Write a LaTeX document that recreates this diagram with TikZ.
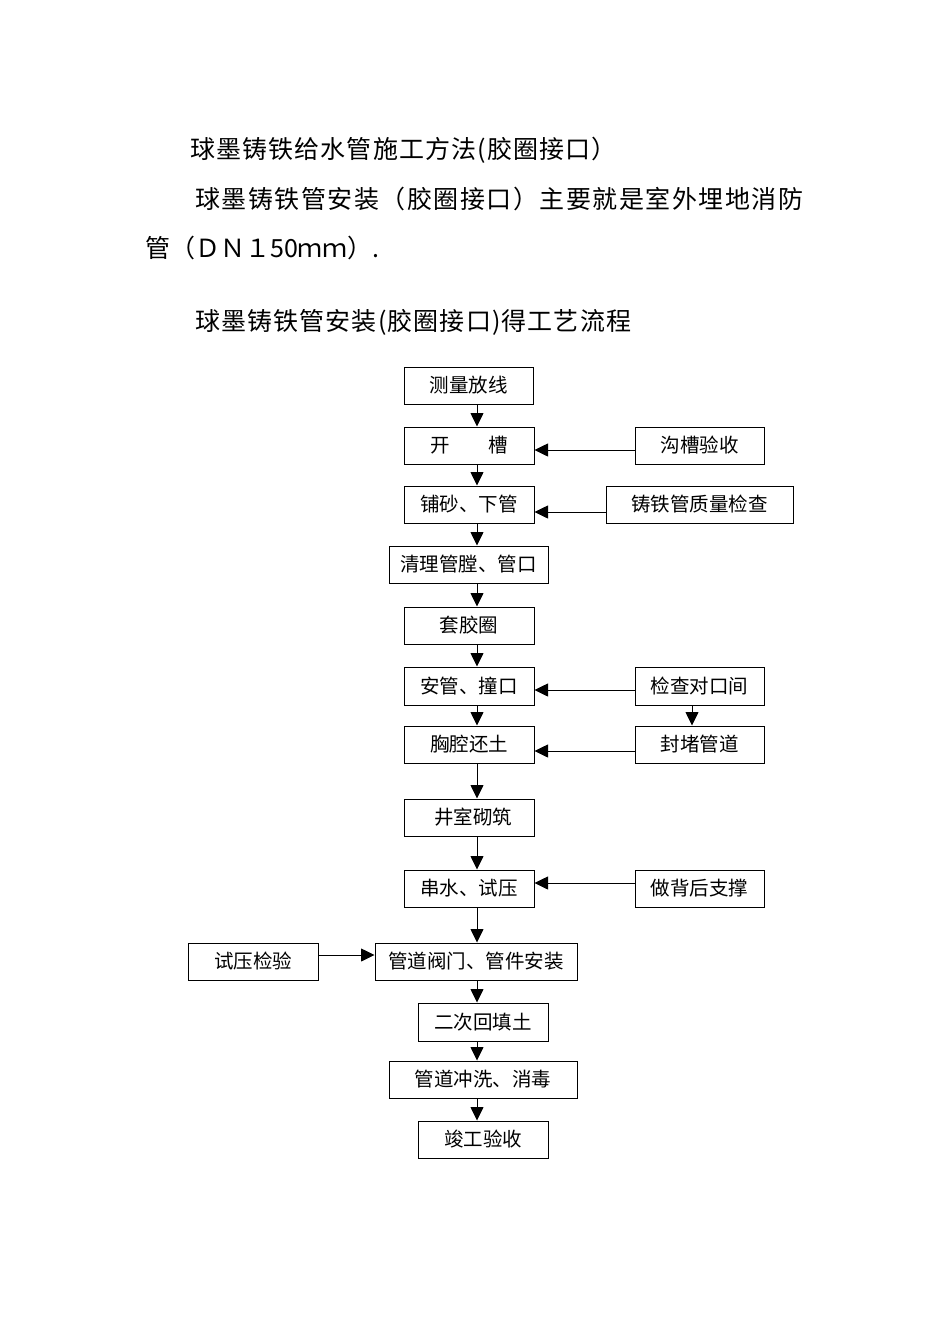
\documentclass[tikz,border=0pt]{standalone}
\usepackage{fontspec}
\setmainfont{Noto Sans CJK SC}
\usetikzlibrary{arrows.meta}
\begin{document}
\begin{tikzpicture}[x=1pt,y=-1pt,
  box/.style={draw, line width=1pt, inner sep=0pt, minimum height=37pt, font=\fontsize{19.5}{19.5}\selectfont},
  arr/.style={line width=0.8pt, -{Triangle[length=13.5pt,width=13pt]}},
  head/.style={anchor=west, inner sep=0pt, font=\fontsize{25}{25}\selectfont}]
\useasboundingbox[fill=white] (0,0) rectangle (950,1344);

% headings
\node[head] (h1) at (190,150) {\addfontfeature{LetterSpace=4.5}球墨铸铁给水管施工方法(胶圈接口）};
\node[head] (h2) at (195,199) {\addfontfeature{LetterSpace=6}球墨铸铁管安装（胶圈接口）主要就是室外埋地消防};
\node[head] (h3) at (145,248) {管（ＤＮ１50ｍｍ）.};
\node[head] (h4) at (195,322) {\addfontfeature{LetterSpace=4.5}球墨铸铁管安装(胶圈接口)得工艺流程};

% main column
\node[box, minimum width=129pt] (cl) at (468.5,385.5) {测量放线};
\node[box, minimum width=130pt] (kc) at (469,445.5) {开\hspace{2em}槽};
\node[box, minimum width=130pt] (ps) at (469,504.5) {铺砂、下管};
\node[box, minimum width=159pt] (ql) at (468.5,564.5) {清理管膛、管口};
\node[box, minimum width=130pt] (tj) at (469,625.5) {套胶圈};
\node[box, minimum width=130pt, minimum height=38pt] (ag) at (469,686) {安管、撞口};
\node[box, minimum width=130pt] (xq) at (469,744.5) {胸腔还土};
\node[box, minimum width=130pt] (js) at (469,817.5) {\hspace{8pt}井室砌筑};
\node[box, minimum width=130pt] (cs) at (469,888.5) {串水、试压};
\node[box, minimum width=202pt] (gd) at (476,961.5) {管道阀门、管件安装};
\node[box, minimum width=130pt, minimum height=38pt] (ec) at (483,1022) {二次回填土};
\node[box, minimum width=188pt] (gx) at (483,1079.5) {管道冲洗、消毒};
\node[box, minimum width=130pt] (jg) at (483,1139.5) {竣工验收};

% side boxes
\node[box, minimum width=129pt] (gc) at (699.5,445.5) {沟槽验收};
\node[box, minimum width=187pt] (zt) at (699.5,504.5) {铸铁管质量检查};
\node[box, minimum width=129pt, minimum height=38pt] (jc) at (699.5,686) {检查对口间};
\node[box, minimum width=129pt] (fd) at (699.5,744.5) {封堵管道};
\node[box, minimum width=129pt] (zc) at (699.5,888.5) {做背后支撑};
\node[box, minimum width=130pt] (sy) at (253,961.5) {试压检验};

% main axis
\coordinate (ax) at (477,0);

\draw[arr] (cl.south -| ax) -- (kc.north -| ax);
\draw[arr] (kc.south -| ax) -- (ps.north -| ax);
\draw[arr] (ps.south -| ax) -- (ql.north -| ax);
\draw[arr] (ql.south -| ax) -- (tj.north -| ax);
\draw[arr] (tj.south -| ax) -- (ag.north -| ax);
\draw[arr] (ag.south -| ax) -- (xq.north -| ax);
\draw[arr] (xq.south -| ax) -- (js.north -| ax);
\draw[arr] (js.south -| ax) -- (cs.north -| ax);
\draw[arr] (cs.south -| ax) -- (gd.north -| ax);
\draw[arr] (gd.south -| ax) -- (ec.north -| ax);
\draw[arr] (ec.south -| ax) -- (gx.north -| ax);
\draw[arr] (gx.south -| ax) -- (jg.north -| ax);

% side arrows
\draw[arr] ([yshift=-4.5pt]gc.west) -- ([yshift=-4.5pt]gc.west -| kc.east);
\draw[arr] ([yshift=-7.5pt]zt.west) -- ([yshift=-7.5pt]zt.west -| ps.east);
\draw[arr] ([yshift=-4pt]jc.west) -- ([yshift=-4pt]jc.west -| ag.east);
\draw[arr] ([yshift=-6.5pt]fd.west) -- ([yshift=-6.5pt]fd.west -| xq.east);
\draw[arr] ([yshift=5.5pt]zc.west) -- ([yshift=5.5pt]zc.west -| cs.east);
\draw[arr] ([yshift=6.5pt]sy.east) -- ([yshift=6.5pt]sy.east -| gd.west);
\draw[arr] ([xshift=-7.5pt]jc.south) -- ([xshift=-7.5pt]jc.south |- fd.north);
\end{tikzpicture}
\end{document}
